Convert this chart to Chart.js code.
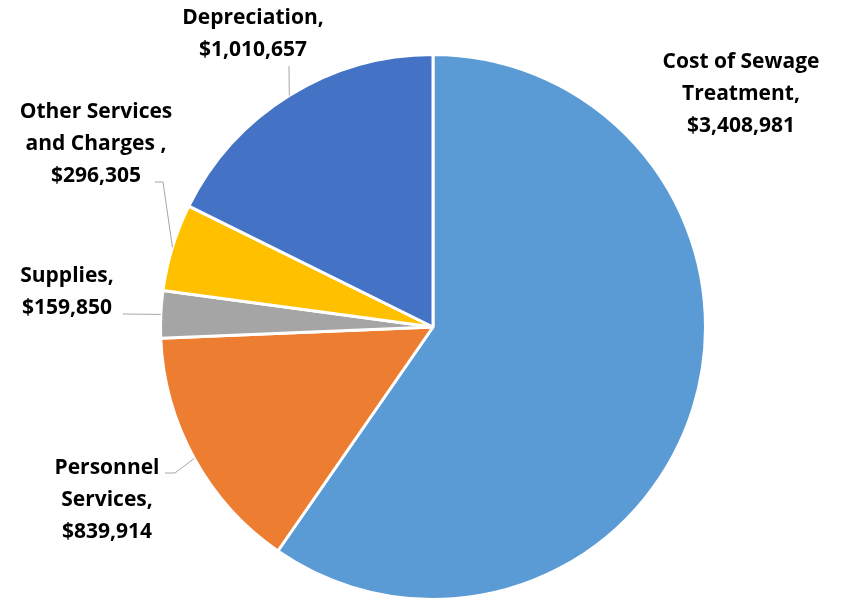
<!DOCTYPE html>
<html>
<head>
<meta charset="utf-8">
<script src="https://cdn.jsdelivr.net/npm/chart.js@4/dist/chart.umd.min.js"></script>
<style>
  html, body { margin: 0; padding: 0; background: #fff; }
  #wrap { width: 841px; height: 601px; position: relative; }
</style>
</head>
<body>
<div id="wrap"><canvas id="pie"></canvas></div>
<script>
// Cost breakdown pie
const categories = ['Cost of Sewage Treatment', 'Personnel Services', 'Supplies', 'Other Services and Charges ', 'Depreciation'];
const amounts = [3408981, 839914, 159850, 296305, 1010657];
const colors = ['#5B9BD5', '#ED7D31', '#A5A5A5', '#FFC000', '#4472C4'];

// label text lines, placement of each label block and its leader line elbows
const labelLines = [
  ['Cost of Sewage', 'Treatment,'],
  ['Personnel', 'Services,'],
  ['Supplies,'],
  ['Other Services', 'and Charges ,'],
  ['Depreciation,']
];
const labelPos = [
  { x: 741, y: 62 },
  { x: 107, y: 468 },
  { x: 67, y: 276 },
  { x: 96, y: 112 },
  { x: 253, y: 18 }
];
const leaders = [
  null,
  [[175, 473], [165, 473]],
  [[123, 314]],
  [[163, 182], [155, 182]],
  [[289, 66]]
];

function money(v) {
  return '$' + v.toLocaleString('en-US');
}

const labelPlugin = {
  id: 'outsideLabels',
  afterDatasetsDraw(chart) {
    const ctx = chart.ctx;
    const meta = chart.getDatasetMeta(0);
    ctx.save();
    meta.data.forEach((arc, i) => {
      const mid = (arc.startAngle + arc.endAngle) / 2;
      const sx = arc.x + Math.cos(mid) * arc.outerRadius;
      const sy = arc.y + Math.sin(mid) * arc.outerRadius;
      if (leaders[i]) {
        ctx.strokeStyle = '#A6A6A6';
        ctx.lineWidth = 1;
        ctx.beginPath();
        ctx.moveTo(sx, sy);
        leaders[i].forEach(p => ctx.lineTo(p[0], p[1]));
        ctx.stroke();
      }
      const lines = labelLines[i].concat([money(amounts[i])]);
      ctx.fillStyle = '#000';
      ctx.font = 'bold 21px "Open Sans"';
      ctx.textAlign = 'center';
      ctx.textBaseline = 'middle';
      lines.forEach((t, k) => {
        ctx.fillText(t, labelPos[i].x, labelPos[i].y + k * 32);
      });
    });
    ctx.restore();
  }
};

new Chart(document.getElementById('pie'), {
  type: 'pie',
  data: {
    labels: categories,
    datasets: [{
      data: amounts,
      backgroundColor: colors,
      borderColor: '#fff',
      borderWidth: 3
    }]
  },
  options: {
    responsive: true,
    maintainAspectRatio: false,
    animation: false,
    layout: { padding: { left: 159, right: 134, top: 53, bottom: 0 } },
    plugins: {
      legend: { display: false },
      tooltip: { enabled: false }
    }
  },
  plugins: [labelPlugin]
});
</script>
</body>
</html>
